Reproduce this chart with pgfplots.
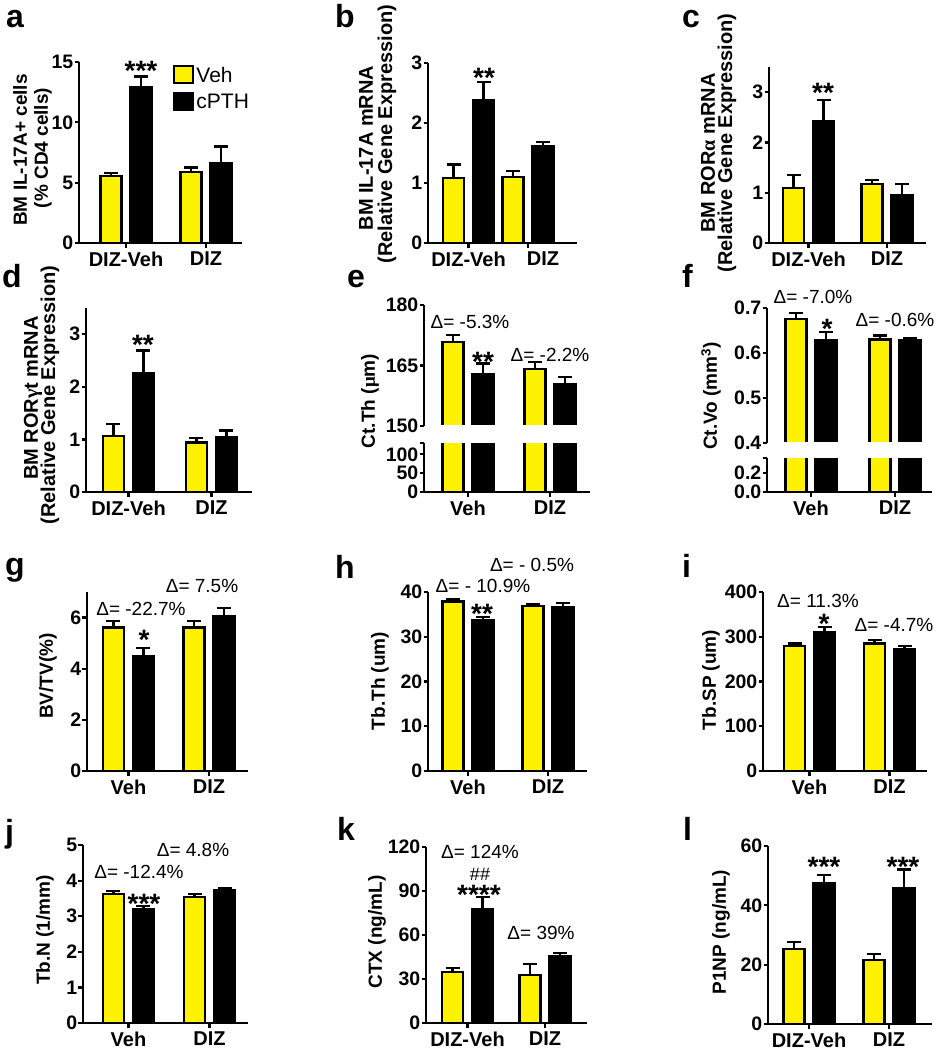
\documentclass[border=0pt]{standalone}
\usepackage{fontspec}
\setmainfont{Liberation Sans}
\newfontfamily\symfont{Liberation Serif}
\usepackage{pgfplots}
\pgfplotsset{compat=1.18}
\pgfplotsset{
  panel/.style={scale only axis, anchor=south west,
    axis x line*=bottom, axis y line*=left,
    axis line style={line width=2.2pt, black},
    tick style={line width=2.2pt, black},
    major tick length=4.5pt, tick align=outside,
    xtick={0,1}, xticklabels={DIZ-Veh,DIZ},
    ybar=9pt, bar width=21pt, ymin=0,
    /pgf/number format/assume math mode=true,
    yticklabel style={font=\fontsize{19.5}{19.5}\selectfont\bfseries, inner xsep=1pt},
    xticklabel style={font=\fontsize{20}{20}\selectfont\bfseries, inner ysep=4pt},
  },
  upper/.style={panel, axis x line=none, xtick=\empty},
  ebar/.style={error bars/.cd, y dir=plus, y explicit,
    error bar style={line width=2.2pt, black},
    error mark options={rotate=90, line width=2.2pt, black, mark size=7pt}},
  veh/.style={fill=yellow, draw=black, line width=2.2pt, ebar},
  pth/.style={fill=black, draw=black, line width=2.2pt, ebar},
}
\newcommand{\ylab}{\fontsize{19}{19}\selectfont\bfseries}
\newcommand{\ylabb}{\fontsize{20}{20}\selectfont\bfseries}
\newcommand{\dlt}{\fontsize{19}{19}\selectfont}
\newcommand{\stars}{\fontsize{28}{28}\selectfont\bfseries}
\newcommand{\plab}{\fontsize{32}{32}\selectfont\bfseries}
\begin{document}
\begin{tikzpicture}
\path[use as bounding box] (0,0) rectangle (937pt,-1050pt);

% ---------- a ----------
\begin{axis}[panel, at={(79pt,-243pt)}, width=163pt, height=181pt,
  xmin=-0.5875, xmax=1.45, ymax=15, ytick={0,5,10,15},
  legend style={draw=none, fill=none, at={(axis description cs:0.577,0.985)}, anchor=north west,
    font=\fontsize{21}{21}\selectfont, row sep=6pt, inner sep=0pt,
    /tikz/every even column/.append style={column sep=5pt}},
  legend cell align=left,
  legend image code/.code={\draw[#1, line width=2.2pt] (0pt,-8pt) rectangle (19pt,9pt);}]
\addplot[veh] coordinates {(0,5.58) +- (0,0.2) (1,5.86) +- (0,0.39)};
\addplot[pth] coordinates {(0,12.92) +- (0,0.88) (1,6.61) +- (0,1.39)};
\legend{Veh,cPTH}
\end{axis}

% ---------- b ----------
\begin{axis}[panel, at={(428pt,-243pt)}, width=149pt, height=180pt,
  xmin=-0.6807, xmax=1.8235, ymax=3, ytick={0,1,2,3},
  xticklabels={DIZ-Veh,\hspace*{30pt}DIZ}]
\addplot[veh] coordinates {(0,1.09) +- (0,0.22) (1,1.10) +- (0,0.10)};
\addplot[pth] coordinates {(0,2.39) +- (0,0.29) (1,1.62) +- (0,0.07)};
\end{axis}

% ---------- c ----------
\begin{axis}[panel, at={(769pt,-243pt)}, width=157pt, height=176pt,
  xmin=-0.5032, xmax=1.4968, ymax=3.5, ytick={0,1,2,3}]
\addplot[veh] coordinates {(0,1.09) +- (0,0.27) (1,1.18) +- (0,0.07)};
\addplot[pth] coordinates {(0,2.43) +- (0,0.42) (1,0.95) +- (0,0.22)};
\end{axis}

% ---------- d ----------
\begin{axis}[panel, at={(86pt,-492pt)}, width=166pt, height=184pt,
  xmin=-0.512, xmax=1.488, ymax=3.5, ytick={0,1,2,3}]
\addplot[veh] coordinates {(0,1.07) +- (0,0.22) (1,0.94) +- (0,0.08)};
\addplot[pth] coordinates {(0,2.26) +- (0,0.43) (1,1.04) +- (0,0.13)};
\end{axis}

% ---------- e (broken axis) ----------
\begin{axis}[upper, at={(424pt,-426pt)}, width=166pt, height=121pt,
  xmin=-0.5366, xmax=1.4878, ymin=150, ymax=180, ytick={150,165,180}]
\addplot[veh] coordinates {(0,170.9) +- (0,1.7) (1,164.2) +- (0,1.6)};
\addplot[pth] coordinates {(0,162.8) +- (0,2.7) (1,160.5) +- (0,1.6)};
\end{axis}
\fill[white] (432pt,-424.9pt) rectangle (592pt,-434pt);
\begin{axis}[panel, at={(424pt,-492pt)}, width=166pt, height=49pt,
  xmin=-0.5366, xmax=1.4878, ymax=130, ytick={0,50,100},
  extra y ticks={130}, extra y tick labels={}, xticklabels={Veh,DIZ}]
\addplot[veh] coordinates {(0,170.9) +- (0,1.7) (1,164.2) +- (0,1.6)};
\addplot[pth] coordinates {(0,162.8) +- (0,2.7) (1,160.5) +- (0,1.6)};
\end{axis}

% ---------- f (broken axis) ----------
\begin{axis}[upper, at={(767pt,-443pt)}, width=165pt, height=135pt,
  xmin=-0.5238, xmax=1.4405, ymin=0.4, ymax=0.7, ytick={0.4,0.5,0.6,0.7},
  yticklabels={0.4,0.5,0.6,0.7}]
\addplot[veh] coordinates {(0,0.675) +- (0,0.014) (1,0.630) +- (0,0.009)};
\addplot[pth] coordinates {(0,0.628) +- (0,0.018) (1,0.628) +- (0,0.005)};
\end{axis}
\fill[white] (775pt,-441.9pt) rectangle (936pt,-450pt);
\begin{axis}[panel, at={(767pt,-492pt)}, width=165pt, height=34pt,
  xmin=-0.5238, xmax=1.4405, ymax=0.36, ytick={0,0.2}, yticklabels={0.0,0.2},
  extra y ticks={0.36}, extra y tick labels={}, xticklabels={Veh,DIZ}]
\addplot[veh] coordinates {(0,0.675) +- (0,0.014) (1,0.630) +- (0,0.009)};
\addplot[pth] coordinates {(0,0.628) +- (0,0.018) (1,0.628) +- (0,0.005)};
\end{axis}

% ---------- g ----------
\begin{axis}[panel, at={(87pt,-771pt)}, width=161pt, height=179pt,
  xmin=-0.5155, xmax=1.4845, ymax=7, ytick={0,2,4,6}, xticklabels={Veh,DIZ}]
\addplot[veh] coordinates {(0,5.61) +- (0,0.26) (1,5.61) +- (0,0.26)};
\addplot[pth] coordinates {(0,4.51) +- (0,0.30) (1,6.04) +- (0,0.32)};
\end{axis}

% ---------- h ----------
\begin{axis}[panel, at={(428pt,-771pt)}, width=159pt, height=179pt,
  xmin=-0.5, xmax=1.4875, ymax=40, ytick={0,10,20,30,40}, xticklabels={Veh,DIZ}]
\addplot[veh] coordinates {(0,37.9) +- (0,0.6) (1,36.8) +- (0,0.5)};
\addplot[pth] coordinates {(0,33.8) +- (0,0.6) (1,36.6) +- (0,0.9)};
\end{axis}

% ---------- i ----------
\begin{axis}[panel, at={(763pt,-771pt)}, width=164pt, height=179pt,
  xmin=-0.5813, xmax=1.4688, ymax=400, ytick={0,100,200,300,400}, xticklabels={Veh,DIZ}]
\addplot[veh] coordinates {(0,280) +- (0,5) (1,285) +- (0,7)};
\addplot[pth] coordinates {(0,311) +- (0,10) (1,272) +- (0,7)};
\end{axis}

% ---------- j ----------
\begin{axis}[panel, at={(83pt,-1023pt)}, width=165pt, height=178pt,
  xmin=-0.5617, xmax=1.4753, ymax=5, ytick={0,1,2,3,4,5}, xticklabels={Veh,DIZ}]
\addplot[veh] coordinates {(0,3.63) +- (0,0.08) (1,3.55) +- (0,0.07)};
\addplot[pth] coordinates {(0,3.20) +- (0,0.09) (1,3.73) +- (0,0.07)};
\end{axis}

% ---------- k ----------
\begin{axis}[panel, at={(426pt,-1023pt)}, width=161pt, height=176pt,
  xmin=-0.5355, xmax=1.5419, ymax=120, ytick={0,30,60,90,120}]
\addplot[veh] coordinates {(0,35.0) +- (0,2.5) (1,32.8) +- (0,7.7)};
\addplot[pth] coordinates {(0,77.6) +- (0,8.4) (1,45.7) +- (0,1.8)};
\end{axis}

% ---------- l ----------
\begin{axis}[panel, at={(768pt,-1024pt)}, width=164pt, height=178pt,
  xmin=-0.5125, xmax=1.5375, ymax=60, ytick={0,20,40,60}]
\addplot[veh] coordinates {(0,25.4) +- (0,2.2) (1,21.5) +- (0,2.0)};
\addplot[pth] coordinates {(0,47.4) +- (0,2.8) (1,45.7) +- (0,6.4)};
\end{axis}

% ---------- y-axis labels ----------
\node[rotate=90, font=\ylab] at (20pt,-150pt) {BM IL-17A+ cells};
\node[rotate=90, font=\ylab] at (43pt,-148pt) {(\% CD4 cells)};
\node[rotate=90, font=\ylabb] at (366pt,-148pt) {BM IL-17A mRNA};
\node[rotate=90, font=\ylabb] at (387pt,-134pt) {(Relative Gene Expression)};
\node[rotate=90, font=\ylabb] at (708pt,-153pt) {BM ROR{\symfont α} mRNA};
\node[rotate=90, font=\ylabb] at (727pt,-143pt) {(Relative Gene Expression)};
\node[rotate=90, font=\ylabb] at (33pt,-398pt) {BM ROR{\symfont γ}t mRNA};
\node[rotate=90, font=\ylabb] at (50pt,-395pt) {(Relative Gene Expression)};
\node[rotate=90, font=\ylab] at (370pt,-401pt) {Ct.Th ({\symfont μ}m)};
\node[rotate=90, font=\ylab] at (711pt,-396pt) {Ct.Vo (mm\textsuperscript{3})};
\node[rotate=90, font=\ylab] at (48pt,-676pt) {BV/TV(\%)};
\node[rotate=90, font=\ylab] at (380pt,-681pt) {Tb.Th (um)};
\node[rotate=90, font=\ylab] at (711pt,-680pt) {Tb.SP (um)};
\node[rotate=90, font=\ylab] at (45pt,-930pt) {Tb.N (1/mm)};
\node[rotate=90, font=\ylab] at (377pt,-932pt) {CTX (ng/mL)};
\node[rotate=90, font=\ylab] at (721pt,-932pt) {P1NP (ng/mL)};

% ---------- significance stars ----------
\node[font=\stars] at (141pt,-71pt) {***};
\node[font=\stars] at (484pt,-78pt) {**};
\node[font=\stars] at (823pt,-93pt) {**};
\node[font=\stars] at (143pt,-345pt) {**};
\node[font=\stars] at (483pt,-362pt) {**};
\node[font=\stars] at (827pt,-329pt) {*};
\node[font=\stars] at (144pt,-640pt) {*};
\node[font=\stars] at (482pt,-614pt) {**};
\node[font=\stars] at (824pt,-624pt) {*};
\node[font=\stars] at (144pt,-904pt) {***};
\node[font=\stars] at (479pt,-895pt) {****};
\node[font=\fontsize{18}{18}\selectfont] at (480pt,-874pt) {\#\#};
\node[font=\stars] at (824pt,-867pt) {***};
\node[font=\stars] at (903pt,-867pt) {***};

% ---------- percent changes ----------
\node[font=\dlt] at (470pt,-322pt) {Δ= -5.3\%};
\node[font=\dlt] at (550pt,-355pt) {Δ= -2.2\%};
\node[font=\dlt] at (813pt,-297pt) {Δ= -7.0\%};
\node[font=\dlt] at (895pt,-320pt) {Δ= -0.6\%};
\node[font=\dlt] at (141pt,-609pt) {Δ= -22.7\%};
\node[font=\dlt] at (202pt,-586pt) {Δ= 7.5\%};
\node[font=\dlt] at (483pt,-586pt) {Δ= - 10.9\%};
\node[font=\dlt] at (532pt,-565pt) {Δ= - 0.5\%};
\node[font=\dlt] at (818pt,-601pt) {Δ= 11.3\%};
\node[font=\dlt] at (894pt,-625pt) {Δ= -4.7\%};
\node[font=\dlt] at (139pt,-872pt) {Δ= -12.4\%};
\node[font=\dlt] at (193pt,-850pt) {Δ= 4.8\%};
\node[font=\dlt] at (480pt,-852pt) {Δ= 124\%};
\node[font=\dlt] at (541pt,-933pt) {Δ= 39\%};

% ---------- panel letters ----------
\node[font=\plab, anchor=base west, inner sep=0pt] at (6pt,-27pt) {a};
\node[font=\plab, anchor=base west, inner sep=0pt] at (335pt,-27pt) {b};
\node[font=\plab, anchor=base west, inner sep=0pt] at (682pt,-27pt) {c};
\node[font=\plab, anchor=base west, inner sep=0pt] at (2pt,-287pt) {d};
\node[font=\plab, anchor=base west, inner sep=0pt] at (347pt,-287pt) {e};
\node[font=\plab, anchor=base west, inner sep=0pt] at (682pt,-287pt) {f};
\node[font=\plab, anchor=base west, inner sep=0pt] at (5pt,-575pt) {g};
\node[font=\plab, anchor=base west, inner sep=0pt] at (335pt,-578pt) {h};
\node[font=\plab, anchor=base west, inner sep=0pt] at (682pt,-577pt) {i};
\node[font=\plab, anchor=base west, inner sep=0pt] at (5pt,-842pt) {j};
\node[font=\plab, anchor=base west, inner sep=0pt] at (337pt,-840pt) {k};
\node[font=\plab, anchor=base west, inner sep=0pt] at (683pt,-840pt) {l};
\end{tikzpicture}
\end{document}
